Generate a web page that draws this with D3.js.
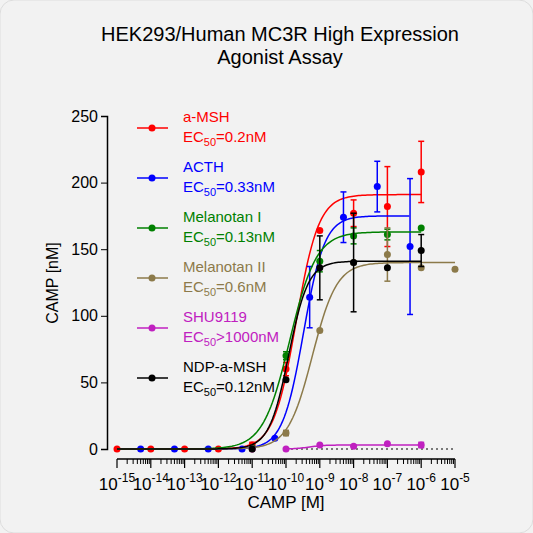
<!DOCTYPE html><html><head><meta charset="utf-8">
<script src="https://cdn.jsdelivr.net/npm/d3@7"></script>
<style>body{margin:0;background:#f2f2f2;font-family:Arial,"Liberation Sans",sans-serif}</style></head><body>
<svg id="c" width="533" height="533"></svg>
<script>
const seriesNames=["a-MSH","ACTH","Melanotan I","Melanotan II","SHU9119","NDP-a-MSH"];
const ec50Labels=["=0.2nM","=0.33nM","=0.13nM","=0.6nM",">1000nM","=0.12nM"];
const colors=["#ff0000","#0000ff","#008000","#8c7a4a","#c020c0","#000000"];
const logEC=[-9.7,-9.48,-9.89,-9.22,null,-9.92];
const tops=[191,175,163,140,null,141];
const hill=[1.3,1.4,1.1,1.2,null,1.5];
const curveRange=[[-15,-6],[-15,-6.33],[-15,-6],[-15,-5],[-10,-6],[-15,-6]];
const logX=[
 [-15,-14,-13,-12,-11,-10,-9,-8,-7,-6],
 [-14.3,-13.3,-12.3,-11.3,-10.33,-9.3,-8.3,-7.3,-6.33],
 [-11,-10,-9,-8,-7,-6],
 [-11,-10,-9,-8,-7,-6,-5],
 [-11,-10,-9,-8,-7,-6],
 [-11,-10,-9,-8,-7,-6]];
const yVals=[
 [0,0,0,0,3,60,164,177,182,208],
 [0,0,0,0,8,114,174,197,152],
 [1,70,141,160,161,166],
 [0,12,89,140,146,136,135],
 [0,0,3,2,4,3],
 [0,52,136,140,136,149]];
const yErr=[
 [0,0,0,0,2,5,0,10,30,23],
 [0,0,0,0,0,23,19,19,51],
 [0,3,8,6,4,0],
 [0,2,0,0,20,0,0],
 [0,0,0,0,0,2],
 [0,0,24,37,0,12]];
const xTicks=d3.range(-15,-4);
const yTicks=[0,50,100,150,200,250];

const svg=d3.select("#c");
svg.append("rect").attr("width",533).attr("height",533).attr("rx",14).attr("fill","#f2f2f2").attr("stroke","#ddd");
const x=d3.scaleLinear().domain([-15,-5]).range([117,455]);
const y=d3.scaleLinear().domain([0,250]).range([449,116]);
svg.append("text").attr("x",280).attr("y",41).attr("text-anchor","middle").attr("font-size",20).text("HEK293/Human MC3R High Expression");
svg.append("text").attr("x",280).attr("y",64).attr("text-anchor","middle").attr("font-size",20).text("Agonist Assay");
const ya=svg.append("g").attr("transform","translate(107,0)").call(d3.axisLeft(y).tickValues(yTicks).tickSize(6));
ya.selectAll("text").attr("font-size",16).attr("fill","#000").attr("font-family","Arial,Liberation Sans");
ya.select(".domain").attr("stroke-width",1.5);
svg.append("text").attr("transform","translate(58,283) rotate(-90)").attr("text-anchor","middle").attr("font-size",16).text("CAMP [nM]");
const minor=[];xTicks.slice(0,-1).forEach(t=>{for(let k=2;k<10;k++)minor.push(t+Math.log10(k));});
const xg=svg.append("g").attr("transform","translate(0,459)");
xg.append("line").attr("x1",x(-15)).attr("x2",x(-5)).attr("stroke","#000").attr("stroke-width",1.5);
xg.selectAll(".mj").data(xTicks).join("line").attr("x1",d=>x(d)).attr("x2",d=>x(d)).attr("y1",0).attr("y2",9).attr("stroke","#000").attr("stroke-width",1.2);
xg.selectAll(".mn").data(minor).join("line").attr("x1",d=>x(d)).attr("x2",d=>x(d)).attr("y1",0).attr("y2",5).attr("stroke","#000");
const xt=xg.selectAll(".tl").data(xTicks).join("text").attr("x",d=>x(d)).attr("y",31).attr("text-anchor","middle").attr("font-size",17);
xt.append("tspan").text("10");
xt.append("tspan").attr("dy",-8).attr("font-size",12).text(d=>d);
svg.append("text").attr("x",286).attr("y",508).attr("text-anchor","middle").attr("font-size",17).text("CAMP [M]");
svg.append("line").attr("x1",x(-10)).attr("x2",x(-5)).attr("y1",y(0)).attr("y2",y(0)).attr("stroke","#000").attr("stroke-dasharray","2,3");
const g=svg.append("g");
seriesNames.forEach((n,i)=>{
  const c=colors[i];
  let pts;
  if(logEC[i]!==null){
    const f=v=>tops[i]/(1+Math.pow(10,(logEC[i]-v)*hill[i]));
    pts=d3.range(curveRange[i][0],curveRange[i][1]+0.001,0.05).map(v=>[v,f(v)]);
  } else {
    pts=d3.range(-10,-6+0.001,0.05).map(v=>[v,3/(1+Math.pow(10,(-9.3-v)*2))]);
  }
  g.append("path").attr("d",d3.line().x(d=>x(d[0])).y(d=>y(d[1]))(pts)).attr("fill","none").attr("stroke",c).attr("stroke-width",1.5);
  logX[i].forEach((lx,j)=>{
    const v=yVals[i][j],e=yErr[i][j];
    if(e>0){
      g.append("line").attr("x1",x(lx)).attr("x2",x(lx)).attr("y1",y(v-e)).attr("y2",y(v+e)).attr("stroke",c).attr("stroke-width",1.5);
      [v-e,v+e].forEach(b=>g.append("line").attr("x1",x(lx)-3).attr("x2",x(lx)+3).attr("y1",y(b)).attr("y2",y(b)).attr("stroke",c).attr("stroke-width",1.5));
    }
    g.append("circle").attr("cx",x(lx)).attr("cy",y(v)).attr("r",3.5).attr("fill",c);
  });
  const ly=128+i*50;
  svg.append("line").attr("x1",137).attr("x2",168).attr("y1",ly).attr("y2",ly).attr("stroke",c).attr("stroke-width",1.5);
  svg.append("circle").attr("cx",152).attr("cy",ly).attr("r",3.5).attr("fill",c);
  svg.append("text").attr("x",183).attr("y",ly-6).attr("font-size",15).attr("fill",c).text(n);
  const t=svg.append("text").attr("x",183).attr("y",ly+14).attr("font-size",15).attr("fill",c);
  t.append("tspan").text("EC");t.append("tspan").attr("dy",4).attr("font-size",11).text("50");
  t.append("tspan").attr("dy",-4).text(ec50Labels[i]);
});
</script></body></html>
